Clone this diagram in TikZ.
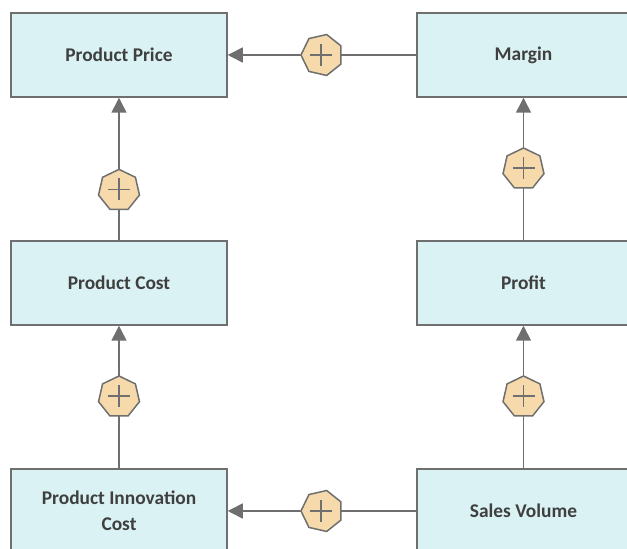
\documentclass[tikz,border=0pt]{standalone}
\usepackage{fontspec}
\setmainfont{Carlito}
\usetikzlibrary{arrows.meta,positioning,shapes.geometric}
\definecolor{boxfill}{HTML}{DAF2F4}
\definecolor{boxline}{HTML}{6F6F6F}
\definecolor{plusfill}{HTML}{F6DAAB}
\definecolor{textgray}{HTML}{3F3F3F}

\begin{document}
\begin{tikzpicture}[x=0.5pt,y=0.5pt,node distance=114pt and 202.25pt,on grid,
      var/.style={draw=boxline,fill=boxfill,line width=0.75pt,minimum width=108pt,
        minimum height=42pt,align=center,text=textgray,
        font=\fontsize{9.7}{13}\selectfont\bfseries},
      plus/.style={regular polygon,regular polygon sides=7,draw=boxline,fill=plusfill,
        line width=0.75pt,minimum size=21pt,inner sep=0pt,
        path picture={\draw[-,boxline,line width=0.6pt]
          ([xshift=-5.5pt]path picture bounding box.center) --
          ([xshift=5.5pt]path picture bounding box.center)
          ([yshift=-5.5pt]path picture bounding box.center) --
          ([yshift=5.5pt]path picture bounding box.center);}},
      every edge/.style={draw=boxline,line width=0.75pt,
        -{Triangle[length=7.5pt,width=7.5pt]}}]
      \useasboundingbox (0,0) rectangle (627,549);
			\node[var] (price) at (119,494) {Product Price};
			\node[var,minimum width=106.5pt] (margin) [right=of price] {Margin};
			\node[var] (cost) [below=of price] {Product Cost};
			\node[var,minimum width=106.5pt] (profit) [below=of margin] {Profit};
			\node[var] (innov) [below=of cost] {Product Innovation\\Cost};
			\node[var,minimum width=106.5pt] (sales) [below=of profit] {Sales Volume};
			\path
				(margin) edge node[plus,shape border rotate=90] {} (price)
				(cost) edge node[plus,pos=.35] {} (price)
				(profit) edge node[plus] {} (margin)
				(innov) edge node[plus] {} (cost)
				(sales) edge node[plus] {} (profit)
				(sales) edge node[plus,shape border rotate=90] {} (innov);
		\end{tikzpicture}
\end{document}
